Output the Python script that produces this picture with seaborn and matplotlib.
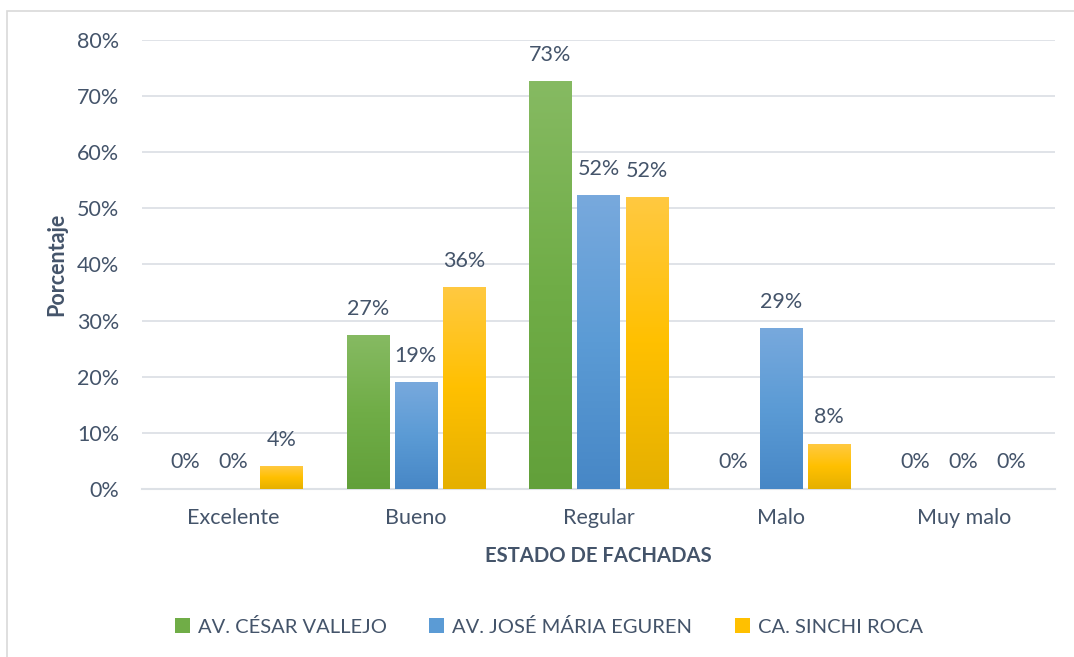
import numpy as np
import pandas as pd
import matplotlib
matplotlib.use("Agg")
import matplotlib.pyplot as plt
import seaborn as sns
from matplotlib.colors import LinearSegmentedColormap
from matplotlib.patches import Patch, Rectangle
from matplotlib.ticker import PercentFormatter

# Data (fraction of facades)
categorias = ["Excelente", "Bueno", "Regular", "Malo", "Muy malo"]
series = ["AV. CÉSAR VALLEJO", "AV. JOSÉ MÁRIA EGUREN", "CA. SINCHI ROCA"]
cesar_vallejo = [0.0, 0.273, 0.727, 0.0, 0.0]
jose_maria_eguren = [0.0, 0.190, 0.524, 0.286, 0.0]
sinchi_roca = [0.04, 0.36, 0.52, 0.08, 0.0]

# (top, middle, bottom) gradient colours per series, Excel style
gradients = {
    series[0]: ("#86BA62", "#70AD47", "#62A03A"),
    series[1]: ("#78A9DD", "#5B9BD5", "#4787C6"),
    series[2]: ("#FFC941", "#FFC000", "#E5B000"),
}
text_color = "#44546A"
grid_color = "#DDE1E6"

df = pd.DataFrame({
    "categoria": categorias * 3,
    "serie": np.repeat(series, len(categorias)),
    "valor": cesar_vallejo + jose_maria_eguren + sinchi_roca,
})

sns.set_theme(style="white")
plt.rcParams["font.family"] = ["Lato", "DejaVu Sans"]

fig = plt.figure(figsize=(10.74, 6.57), dpi=100)
ax = fig.add_axes([0.1322, 0.2562, 0.8501, 0.6825])

palette = {s: gradients[s][1] for s in series}
sns.barplot(data=df, x="categoria", y="valor", hue="serie", hue_order=series,
            order=categorias, palette=palette, width=0.789, gap=0.125,
            ax=ax, legend=False, errorbar=None)

# gradient fill + data labels
for patch, (_, row) in zip(ax.patches, df.iterrows()):
    x0 = patch.get_x()
    w = patch.get_width()
    h = patch.get_height()
    xc = x0 + w / 2
    if h > 0:
        top, mid, bot = gradients[row["serie"]]
        cmap = LinearSegmentedColormap.from_list("g", [bot, mid, top])
        grad = np.linspace(0, 1, 256).reshape(-1, 1)
        ax.imshow(grad, extent=[x0, x0 + w, 0, h], origin="lower",
                  cmap=cmap, aspect="auto", zorder=3)
        patch.set_visible(False)
    ax.annotate(f"{row['valor'] * 100:.0f}%", (xc, h), xytext=(0, 19),
                textcoords="offset points", ha="center", va="center",
                fontsize=15.5, color=text_color)

ax.set_xlim(-0.5, len(categorias) - 0.5)
ax.set_ylim(0, 0.8)
ax.set_yticks(np.arange(0, 0.81, 0.1))
ax.yaxis.set_major_formatter(PercentFormatter(1.0, decimals=0))
ax.grid(axis="y", color=grid_color, linewidth=1.3, zorder=0)
ax.set_axisbelow(True)
for side in ["left", "right", "top"]:
    ax.spines[side].set_visible(False)
ax.spines["bottom"].set_color(grid_color)
ax.spines["bottom"].set_linewidth(1.5)
ax.tick_params(axis="y", length=0, pad=16.5, labelsize=15.5, labelcolor=text_color)
ax.tick_params(axis="x", length=0, pad=14, labelsize=15.5, labelcolor=text_color)
ax.set_xlabel("")
ax.set_ylabel("")

fig.text(0.053, 0.597, "Porcentaje", rotation=90, ha="center", va="center",
         fontsize=15.5, fontweight="bold", color=text_color)
fig.text(0.557, 0.153, "ESTADO DE FACHADAS", ha="center", va="center",
         fontsize=14.6, fontweight="bold", color=text_color)

handles = [Patch(facecolor=gradients[s][1], edgecolor="none", label=s) for s in series]
fig.legend(handles=handles, loc="center", bbox_to_anchor=(0.511, 0.046), ncol=3,
           frameon=False, fontsize=14.5, labelcolor=text_color, handlelength=0.75,
           handleheight=0.75, handletextpad=0.4, columnspacing=2.1)

# chart area border
fig.patches.append(Rectangle((0.0065, -0.01), 1.0, 0.993, transform=fig.transFigure,
                             fill=False, edgecolor="#D9D9D9", linewidth=1.2))

fig.savefig("out.png", dpi=100)
